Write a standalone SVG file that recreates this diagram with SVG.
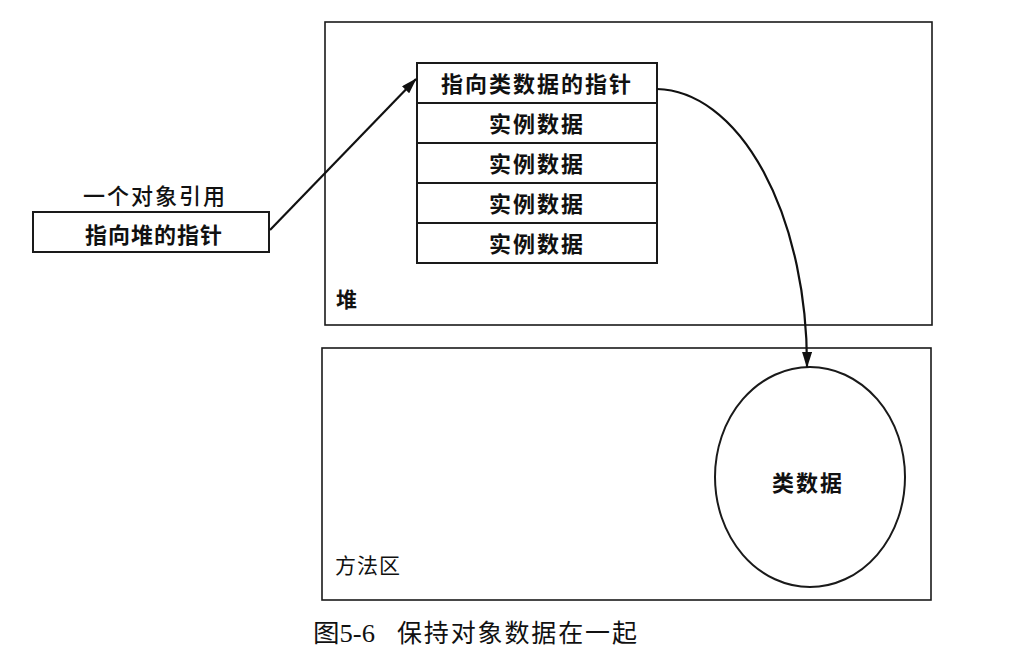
<svg xmlns="http://www.w3.org/2000/svg" width="1022" height="670" viewBox="0 0 1022 670">
<style>
.box{fill:#fff;stroke:#1a1a1a;stroke-width:2}
.region{fill:none;stroke:#1a1a1a;stroke-width:1.6}
.lbl{font-family:"Noto Sans CJK SC",sans-serif;font-size:22px;font-weight:700;fill:#111;text-anchor:middle}
.rl{font-family:"Noto Sans CJK SC",sans-serif;font-size:21px;fill:#111}
.conn{fill:none;stroke:#111;stroke-width:2.2}
.cap{font-family:"Liberation Serif","Noto Sans CJK SC",serif;font-size:25px;fill:#111}
</style>
<defs>
<marker id="ah" viewBox="0 0 16 10" refX="15" refY="5" markerWidth="16" markerHeight="10" markerUnits="userSpaceOnUse" orient="auto">
<path d="M0,0 L16,5 L0,10 z" fill="#111"/>
</marker>
</defs>
<rect width="1022" height="670" fill="#fff"/>
<g id="heap">
<rect class="region" x="325" y="22" width="607" height="303"/>
<text class="rl" x="336" y="307" style="font-weight:700">堆</text>
</g>
<g id="method-area">
<rect class="region" x="322" y="348" width="609" height="252"/>
<text class="rl" x="335" y="573" letter-spacing="1">方法区</text>
</g>
<g id="object-ref">
<text class="lbl" x="155" y="204" style="font-weight:500" letter-spacing="2">一个对象引用</text>
<rect class="box" x="33" y="212" width="236" height="40"/>
<text class="lbl" x="154" y="243" letter-spacing="1">指向堆的指针</text>
</g>
<g id="object">
<rect class="box" x="417" y="63" width="240" height="40"/>
<text class="lbl" x="537" y="92" letter-spacing="2">指向类数据的指针</text>
<rect class="box" x="417" y="103" width="240" height="40"/>
<text class="lbl" x="537" y="132" letter-spacing="2">实例数据</text>
<rect class="box" x="417" y="143" width="240" height="40"/>
<text class="lbl" x="537" y="172" letter-spacing="2">实例数据</text>
<rect class="box" x="417" y="183" width="240" height="40"/>
<text class="lbl" x="537" y="212" letter-spacing="2">实例数据</text>
<rect class="box" x="417" y="223" width="240" height="40"/>
<text class="lbl" x="537" y="252" letter-spacing="2">实例数据</text>
</g>
<g id="class-data">
<ellipse class="box" cx="810" cy="477" rx="95" ry="110"/>
<text class="lbl" x="808" y="491" letter-spacing="2">类数据</text>
</g>
<g id="connectors">
<line class="conn" x1="270" y1="230" x2="416" y2="79" marker-end="url(#ah)"/>
<path class="conn" d="M657,89 A152,276 0 0 1 807,367" marker-end="url(#ah)"/>
</g>
<text class="cap" x="313" y="642"><tspan textLength="62" lengthAdjust="spacingAndGlyphs">图5-6</tspan><tspan x="397" textLength="240" lengthAdjust="spacing">保持对象数据在一起</tspan></text>
</svg>
